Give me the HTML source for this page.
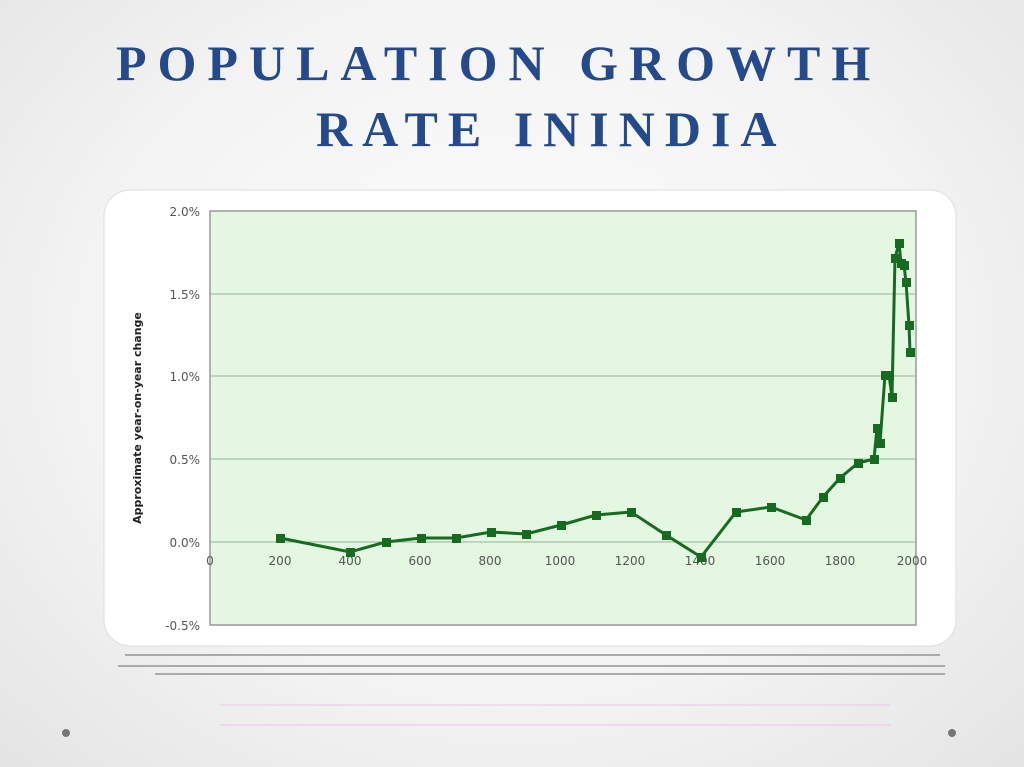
<!DOCTYPE html><html><head><style>
body{margin:0;width:1024px;height:767px;overflow:hidden;background:radial-gradient(ellipse at 50% 45%,#fdfdfd 0%,#f3f3f3 60%,#e4e4e4 100%);font-family:"Liberation Serif",serif;position:relative}
.t{position:absolute;color:#254a8c;font-weight:bold;font-size:50px;white-space:nowrap}
</style></head><body>
<div class="t" style="left:116px;top:34px;letter-spacing:11px">POPULATION GROWTH</div>
<div class="t" style="left:316px;top:100px;letter-spacing:10px">RATE ININDIA</div>
<svg width="1024" height="767" style="position:absolute;left:0;top:0" font-family="DejaVu Sans, sans-serif">
<rect x="104" y="190" width="852" height="456" rx="26" fill="#fff" stroke="#ddd"/>
<rect x="210" y="211" width="706" height="414" fill="#e3f7e1" stroke="#999" stroke-width="1.5"/>
<g stroke="#9ab09a" stroke-width="1">
<line x1="210" y1="294" x2="916" y2="294"/><line x1="210" y1="376" x2="916" y2="376"/><line x1="210" y1="459" x2="916" y2="459"/><line x1="210" y1="542" x2="916" y2="542"/>
</g>
<g font-size="12" fill="#555" text-anchor="end">
<text x="200" y="216">2.0%</text><text x="200" y="299">1.5%</text><text x="200" y="381">1.0%</text><text x="200" y="464">0.5%</text><text x="200" y="547">0.0%</text><text x="200" y="630">-0.5%</text>
</g>
<g font-size="12" fill="#555" text-anchor="middle">
<text x="210" y="565">0</text><text x="280" y="565">200</text><text x="350" y="565">400</text><text x="420" y="565">600</text><text x="490" y="565">800</text><text x="560" y="565">1000</text><text x="630" y="565">1200</text><text x="700" y="565">1400</text><text x="770" y="565">1600</text><text x="840" y="565">1800</text><text x="912" y="565">2000</text>
</g>
<text transform="translate(141,418) rotate(-90)" font-size="11" font-weight="bold" fill="#222" text-anchor="middle">Approximate year-on-year change</text>
<polyline fill="none" stroke="#176b20" stroke-width="3" points="280,538 350,552 386,542 421,538 456,538 491,532 526,534 561,525 596,515 631,512 666,535 701,557 736,512 771,507 806,520 823,497 840,478 858,463 874,459 877,428 880,443 885,375 889,375 892,397 895,258 899,243 901,263 904,265 906,282 909,325 910,352"/>
<g fill="#176b20">
<rect x="276" y="534" width="9" height="9"/><rect x="346" y="548" width="9" height="9"/><rect x="382" y="538" width="9" height="9"/><rect x="417" y="534" width="9" height="9"/><rect x="452" y="534" width="9" height="9"/><rect x="487" y="528" width="9" height="9"/><rect x="522" y="530" width="9" height="9"/><rect x="557" y="521" width="9" height="9"/><rect x="592" y="511" width="9" height="9"/><rect x="627" y="508" width="9" height="9"/><rect x="662" y="531" width="9" height="9"/><rect x="697" y="553" width="9" height="9"/><rect x="732" y="508" width="9" height="9"/><rect x="767" y="503" width="9" height="9"/><rect x="802" y="516" width="9" height="9"/><rect x="819" y="493" width="9" height="9"/><rect x="836" y="474" width="9" height="9"/><rect x="854" y="459" width="9" height="9"/><rect x="870" y="455" width="9" height="9"/><rect x="873" y="424" width="9" height="9"/><rect x="876" y="439" width="9" height="9"/><rect x="881" y="371" width="9" height="9"/><rect x="885" y="371" width="9" height="9"/><rect x="888" y="393" width="9" height="9"/><rect x="891" y="254" width="9" height="9"/><rect x="895" y="239" width="9" height="9"/><rect x="897" y="259" width="9" height="9"/><rect x="900" y="261" width="9" height="9"/><rect x="902" y="278" width="9" height="9"/><rect x="905" y="321" width="9" height="9"/><rect x="906" y="348" width="9" height="9"/>
</g>
<g stroke="#aaa" stroke-width="2"><line x1="125" y1="655" x2="940" y2="655"/><line x1="118" y1="666" x2="945" y2="666"/><line x1="155" y1="674" x2="945" y2="674"/></g>
<g stroke="#f0c0ee" stroke-width="1"><line x1="220" y1="705" x2="890" y2="705"/><line x1="220" y1="725" x2="890" y2="725"/></g>
<circle cx="66" cy="733" r="4" fill="#777"/><circle cx="952" cy="733" r="4" fill="#777"/>
</svg>
</body></html>
